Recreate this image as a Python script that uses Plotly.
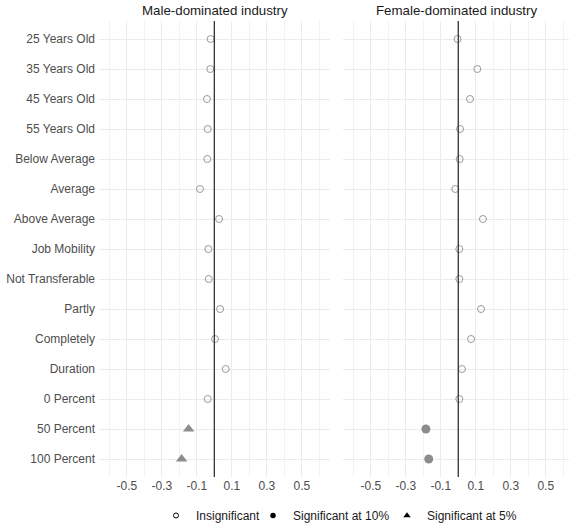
import plotly.graph_objects as go

categories = ["25 Years Old", "35 Years Old", "45 Years Old", "55 Years Old",
              "Below Average", "Average", "Above Average", "Job Mobility",
              "Not Transferable", "Partly", "Completely", "Duration",
              "0 Percent", "50 Percent", "100 Percent"]

male_values = [-0.021, -0.023, -0.042, -0.038, -0.040, -0.082, 0.027, -0.034,
               -0.032, 0.033, 0.004, 0.065, -0.038, -0.147, -0.187]
male_signif = ["Insignificant"] * 13 + ["Significant at 5%", "Significant at 5%"]

female_values = [-0.004, 0.109, 0.067, 0.010, 0.008, -0.017, 0.141, 0.006,
                 0.006, 0.130, 0.073, 0.021, 0.006, -0.185, -0.169]
female_signif = ["Insignificant"] * 13 + ["Significant at 10%", "Significant at 10%"]

panel_titles = ["Male-dominated industry", "Female-dominated industry"]
legend_levels = ["Insignificant", "Significant at 10%", "Significant at 5%"]
x_ticks = [-0.5, -0.3, -0.1, 0.1, 0.3, 0.5]
x_minor = [-0.6, -0.4, -0.2, 0.0, 0.2, 0.4, 0.6]

GREY = "#8c8c8c"
styles = {
    "Insignificant": dict(symbol="circle-open", size=7, color="#9a9a9a", line=dict(width=1, color="#9a9a9a")),
    "Significant at 10%": dict(symbol="circle", size=9, color=GREY, line=dict(width=0)),
    "Significant at 5%": dict(symbol="triangle-up", size=10, color=GREY, line=dict(width=0)),
}
legend_styles = {
    "Insignificant": dict(symbol="circle-open", size=5, color="black", line=dict(width=1, color="black")),
    "Significant at 10%": dict(symbol="circle", size=5.5, color="black", line=dict(width=0)),
    "Significant at 5%": dict(symbol="triangle-up", size=6.5, color="black", line=dict(width=0)),
}

fig = go.Figure()

panels = [(male_values, male_signif, "x", "y"), (female_values, female_signif, "x2", "y2")]
for vals, sig, xa, ya in panels:
    for lvl in legend_levels:
        xs = [v for v, s in zip(vals, sig) if s == lvl]
        ys = [c for c, s in zip(categories, sig) if s == lvl]
        if not xs:
            continue
        fig.add_trace(go.Scatter(x=xs, y=ys, mode="markers", marker=styles[lvl],
                                 xaxis=xa, yaxis=ya, showlegend=False, hoverinfo="x+y"))

legend_ids = ["legend", "legend2", "legend3"]
for lvl, lid in zip(legend_levels, legend_ids):
    fig.add_trace(go.Scatter(x=[None], y=[None], mode="markers", marker=legend_styles[lvl],
                             name=lvl, showlegend=True, xaxis="x", yaxis="y", legend=lid))

axis_common = dict(
    tickvals=x_ticks, ticktext=[f"{v:.1f}" for v in x_ticks],
    showgrid=True, gridcolor="#ebebeb", gridwidth=1, zeroline=False,
    tickfont=dict(family="Liberation Sans, Arial, sans-serif", size=12, color="#4d4d4d"),
    minor=dict(tickvals=x_minor, showgrid=True, gridcolor="#f2f2f2", gridwidth=1, ticks=""),
    ticks="", showline=False, fixedrange=True, automargin=False,
)
yaxis_common = dict(
    type="category", categoryarray=categories, range=[14.6, -0.6],
    showgrid=True, gridcolor="#ebebeb", gridwidth=1, zeroline=False, ticks="",
    showline=False, fixedrange=True, automargin=False,
)

L, R, T, B = 99, 0, 21, 51
PW = 569 - L - R
PH = 528 - T - B

def px_to_paper_x(px):
    return (px - L) / PW

def px_to_paper_y(py):
    return (528 - B - py) / PH

legend_common = dict(orientation="h", xanchor="left", yanchor="bottom",
                     font=dict(size=12, color="#1a1a1a"), bgcolor="rgba(0,0,0,0)",
                     itemwidth=30)
legend_x_px = [156, 253, 387]
legend_bottom_px = 530

fig.update_layout(
    width=569, height=528,
    margin=dict(l=L, r=R, t=T, b=B, autoexpand=False),
    paper_bgcolor="white", plot_bgcolor="white",
    font=dict(family="Liberation Sans, Arial, sans-serif", color="#1a1a1a"),
    xaxis=dict(domain=[0, px_to_paper_x(330)], range=[-0.659, 0.661], anchor="y", **axis_common),
    xaxis2=dict(domain=[px_to_paper_x(343), 1], range=[-0.659, 0.633], anchor="y2", **axis_common),
    yaxis=dict(anchor="x", showticklabels=True, ticklabelstandoff=3,
               tickfont=dict(family="Liberation Sans, Arial, sans-serif", size=12, color="#4d4d4d"),
               **yaxis_common),
    yaxis2=dict(anchor="x2", showticklabels=False, **yaxis_common),
    legend=dict(x=px_to_paper_x(legend_x_px[0]), y=px_to_paper_y(legend_bottom_px), **legend_common),
    legend2=dict(x=px_to_paper_x(legend_x_px[1]), y=px_to_paper_y(legend_bottom_px), **legend_common),
    legend3=dict(x=px_to_paper_x(legend_x_px[2]), y=px_to_paper_y(legend_bottom_px), **legend_common),
    showlegend=True,
)

for xa, ya in [("x", "y"), ("x2", "y2")]:
    fig.add_shape(type="line", x0=0, x1=0, y0=0, y1=1, xref=xa, yref=f"{ya} domain",
                  line=dict(color="#333333", width=1.3))

centers = [px_to_paper_x(214.5), px_to_paper_x(456)]
for title, cx in zip(panel_titles, centers):
    fig.add_annotation(text=title, x=cx, y=1, xref="paper", yref="paper",
                       xanchor="center", yanchor="bottom", yshift=1, showarrow=False,
                       font=dict(size=13.3, color="#1a1a1a"))

fig.write_html("out.html", config={"displayModeBar": False},
               post_script="document.body.style.margin='0';document.body.style.overflow='hidden';")
